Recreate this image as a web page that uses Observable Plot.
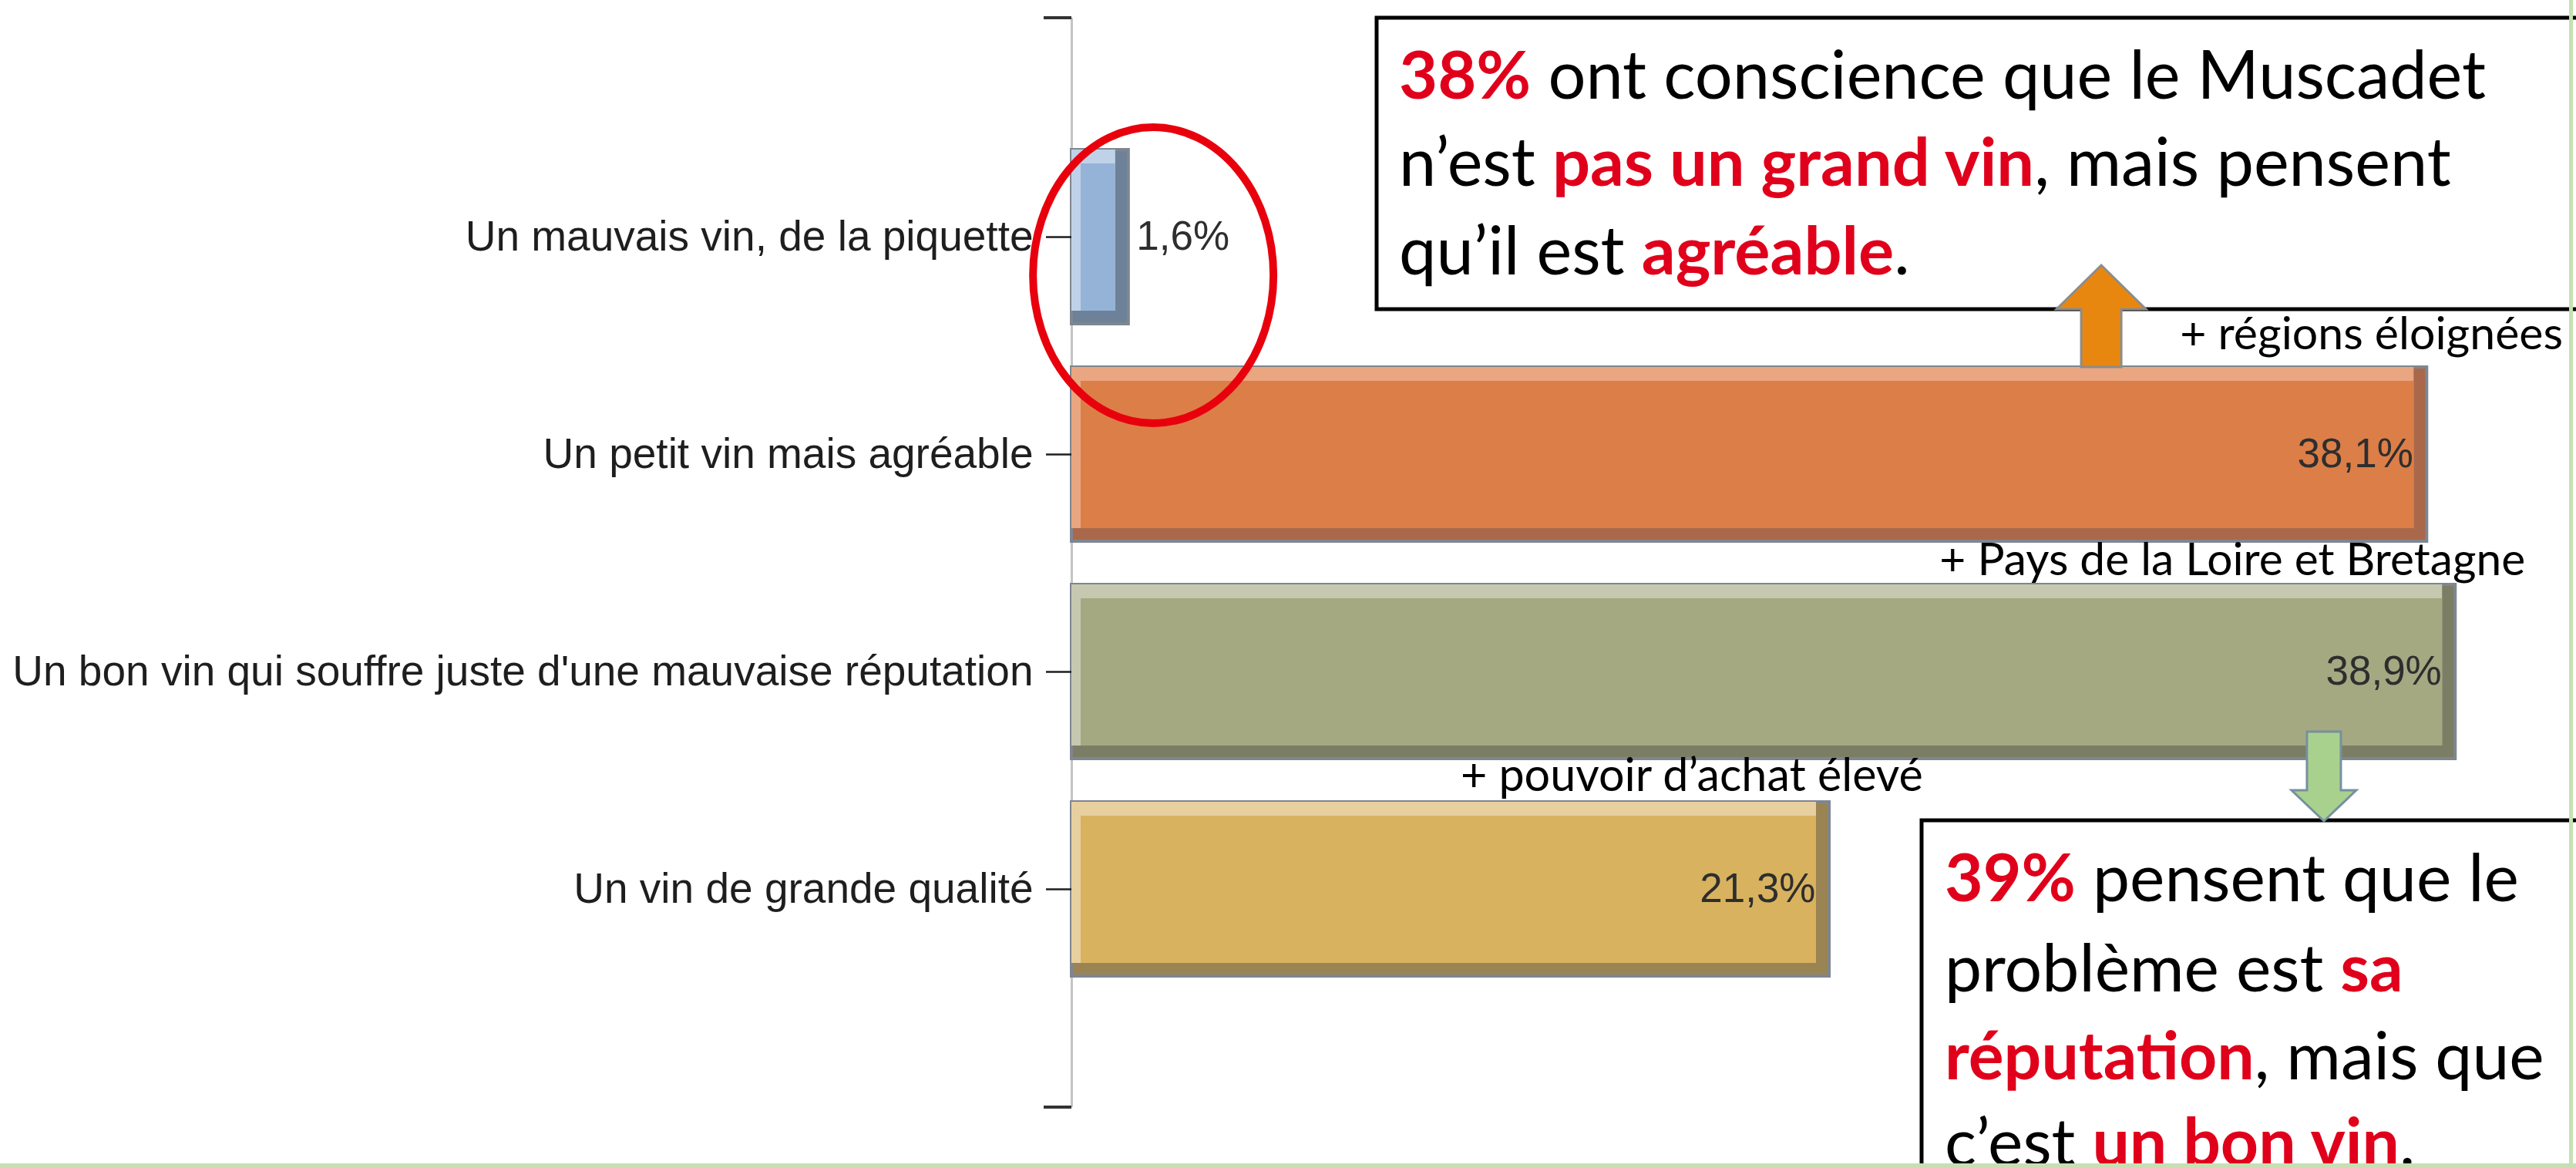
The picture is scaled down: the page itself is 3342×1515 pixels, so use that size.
<!DOCTYPE html>
<html>
<head>
<meta charset="utf-8">
<script src="https://cdn.jsdelivr.net/npm/d3@7"></script>
<script src="https://cdn.jsdelivr.net/npm/@observablehq/plot@0.6"></script>
<style>
  html, body { margin: 0; padding: 0; background: #ffffff; overflow: hidden; }
  #chart { position: relative; width: 3342px; height: 1515px; }
</style>
</head>
<body>
<div id="chart"></div>
<script>
// ---------- data ----------
const categories = [
  "Un mauvais vin, de la piquette",
  "Un petit vin mais agréable",
  "Un bon vin qui souffre juste d'une mauvaise réputation",
  "Un vin de grande qualité"
];
const values = [1.6, 38.1, 38.9, 21.3];
const valueLabels = ["1,6%", "38,1%", "38,9%", "21,3%"];
const notes = ["+ régions éloignées", "+ Pays de la Loire et Bretagne", "+ pouvoir d’achat élevé"];
const callout1Lines = [
  [["38%", true], [" ont conscience que le Muscadet", false]],
  [["n’est ", false], ["pas un grand vin", true], [", mais pensent", false]],
  [["qu’il est ", false], ["agréable", true], [".", false]]
];
const callout2Lines = [
  [["39%", true], [" pensent que le", false]],
  [["problème est ", false], ["sa", true]],
  [["réputation", true], [", mais que", false]],
  [["c’est ", false], ["un bon vin", true], [".", false]]
];

// ---------- styles ----------
const FACE  = ["#95b3d6", "#dc7e48", "#a4a982", "#d8b25f"];
const LIGHT = ["#bfd2e8", "#e9a681", "#c6c9b0", "#e7cf9f"];
const DARK  = ["#6d8298", "#a9684a", "#7b7e65", "#9b8453"];
const EDGE = "#7e8690";
const RED = "#e0001b";
const CALLOUT_FONT = "Lato, 'Open Sans', sans-serif";

const rows = categories.map((category, i) => ({category, value: values[i], label: valueLabels[i], i}));

const chart = Plot.plot({
  width: 3342,
  height: 1515,
  marginLeft: 1390,
  marginRight: 106,
  marginTop: 23,
  marginBottom: 79,
  style: {fontFamily: "'Liberation Sans', Arial, sans-serif", fontSize: "55px", color: "#1e1e1e", background: "#ffffff", overflow: "visible"},
  x: {domain: [0, 40], axis: null},
  y: {domain: categories, paddingInner: 0.2, paddingOuter: 0.6, label: null},
  color: {type: "identity"},
  marks: [
    Plot.ruleX([0], {stroke: "#c4c4c4", strokeWidth: 3}),
    Plot.barX(rows, {x: "value", y: "category", fill: d => DARK[d.i], stroke: EDGE, strokeWidth: 4}),
    Plot.barX(rows, {x: "value", y: "category", fill: d => LIGHT[d.i], insetRight: 17, insetBottom: 17}),
    Plot.barX(rows, {x: "value", y: "category", fill: d => FACE[d.i], insetRight: 17, insetBottom: 17, insetTop: 18, insetLeft: 12}),
    Plot.axisY({tickSize: 33, tickPadding: 17, fontSize: 55, color: "#1e1e1e", strokeWidth: 2.5, label: null}),
    Plot.text(rows.filter(d => d.value >= 5), {x: "value", y: "category", text: "label", textAnchor: "end", dx: -18, fontSize: 53, fill: "#2e2e2e"}),
    Plot.text(rows.filter(d => d.value < 5), {x: "value", y: "category", text: "label", textAnchor: "start", dx: 10, fontSize: 53, fill: "#2e2e2e"})
  ]
});
document.getElementById("chart").appendChild(chart);

// ---------- annotations anchored on the chart's scales ----------
const xs = chart.scale("x"), ys = chart.scale("y");
const X = v => xs.apply(v);
const bw = ys.bandwidth;
const bandTop = i => ys.apply(categories[i]);
const bandMid = i => bandTop(i) + bw / 2;
const bandBot = i => bandTop(i) + bw;
const frameTop = ys.range[0], frameBot = ys.range[1];

const svg = d3.select(chart);
const g = svg.append("g").attr("text-anchor", "start");

// end ticks of the category axis
[frameTop, frameBot].forEach(y => {
  g.append("line").attr("x1", X(0) - 36).attr("x2", X(0)).attr("y1", y).attr("y2", y)
    .attr("stroke", "#333").attr("stroke-width", 4);
});

function fitWidth(sel, target) {
  const w = sel.node().getComputedTextLength();
  const fs = parseFloat(sel.attr("font-size"));
  return fs * target / w;
}

// small notes
function note(text, x, y, anchor, target) {
  const t = g.append("text").attr("x", x).attr("y", y).attr("text-anchor", anchor)
    .attr("font-family", CALLOUT_FONT).attr("font-size", 60).attr("fill", "#000").text(text);
  t.attr("font-size", fitWidth(t, target));
  return t;
}
note(notes[0], X(41.93), bandTop(1) - 23, "end", 497);
note(notes[1], X(40.87), bandTop(2) - 12, "end", 760);
note(notes[2], X(10.94), bandTop(3) - 14, "start", 600);

// callout boxes
function callout(lines, left, top, bottom, textLeft, baselines, target) {
  g.append("rect").attr("x", left).attr("y", top).attr("width", 3400 - left).attr("height", bottom - top)
    .attr("fill", "#ffffff").attr("stroke", "#000").attr("stroke-width", 5);
  const texts = lines.map((segs, k) => {
    const t = g.append("text").attr("x", textLeft).attr("y", baselines[k]).attr("text-anchor", "start")
      .attr("font-family", CALLOUT_FONT).attr("font-size", 88);
    segs.forEach(([s, red]) => t.append("tspan").text(s)
      .attr("fill", red ? RED : "#000").attr("font-weight", red ? 700 : 400));
    return t;
  });
  const fs = fitWidth(texts[0], target);
  texts.forEach(t => t.attr("font-size", fs));
}
const c0 = bandMid(0), c3 = bandMid(3);
callout(callout1Lines, X(8.58), frameTop, c0 + 94, X(9.21), [c0 - 179, c0 - 66, c0 + 49], 1410);

// orange up arrow (from bar 2 to callout 1)
function blockArrow(cx, tipY, baseY, endY, headHalf, shaftHalf, fill, stroke) {
  const pts = [[cx, tipY], [cx + headHalf, baseY], [cx + shaftHalf, baseY], [cx + shaftHalf, endY],
               [cx - shaftHalf, endY], [cx - shaftHalf, baseY], [cx - headHalf, baseY]];
  g.append("polygon").attr("points", pts.map(p => p.join(",")).join(" "))
    .attr("fill", fill).attr("stroke", stroke).attr("stroke-width", 3).attr("stroke-linejoin", "miter");
}
blockArrow(X(28.95), c0 + 37, c0 + 94, bandTop(1), 58, 26, "#e8870f", "#8c8c8c");

callout(callout2Lines, X(23.9), c3 - 89, 1560, X(24.55), [c3 + 16, c3 + 133, c3 + 247, c3 + 359], 745);

// green down arrow (from bar 3 to callout 2)
blockArrow(X(35.21), c3 - 88, c3 - 128, bandBot(2) - 35, 42, 22, "#a9d18e", "#7690a0");

// red ellipse around the smallest bar
g.append("ellipse").attr("cx", X(2.3)).attr("cy", c0 + 50).attr("rx", 156).attr("ry", 192)
  .attr("fill", "none").attr("stroke", "#e8000d").attr("stroke-width", 10);

// slide frame (green)
g.append("rect").attr("x", 3333).attr("y", 0).attr("width", 5).attr("height", 1515).attr("fill", "#c6e0b4");
g.append("rect").attr("x", 0).attr("y", 1509).attr("width", 3342).attr("height", 6).attr("fill", "#c6e0b4");
</script>
</body>
</html>
